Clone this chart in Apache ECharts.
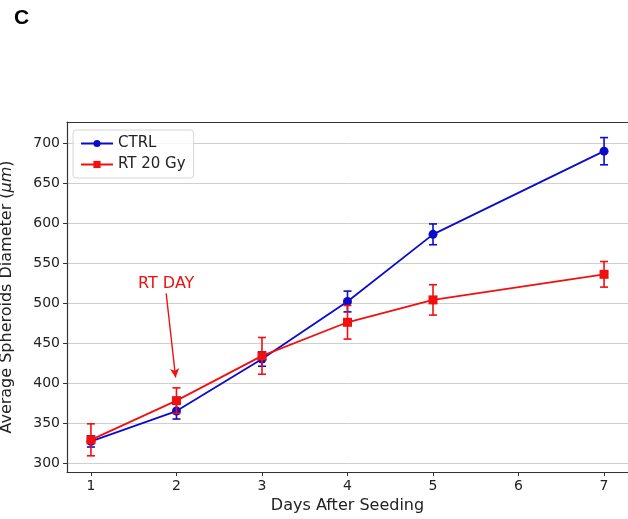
<!DOCTYPE html>
<html>
<head>
<meta charset="utf-8">
<script src="https://cdn.jsdelivr.net/npm/echarts@6/dist/echarts.min.js"></script>
<style>
	html, body { margin: 0; padding: 0; background: #fff; }
	#chart { width: 628px; height: 519px; }
</style>
</head>
<body>
<div id="chart"></div>
<script type="text/javascript">
	// values
	var days = [1, 2, 3, 4, 5, 7];
	var ctrlMean = [327, 365, 430, 502, 586, 690];
	var ctrlErr = [7, 10, 9, 13, 13, 17];
	var rtMean = [329, 378, 434, 476, 504, 536];
	var rtErr = [20, 16, 23, 21, 19, 16];
	var xTicks = [1, 2, 3, 4, 5, 6, 7];
	var yTicks = [300, 350, 400, 450, 500, 550, 600, 650, 700];
	var rtDayFrom = [1.88, 512];
	var rtDayTo = [1.99, 407];

	var font = 'DejaVu Sans';
	var blue = '#0b0bcc';
	var red = '#f01010';

	function pairs(xs, ys) {
		return xs.map(function (x, i) { return [x, ys[i]]; });
	}
	function errRows(xs, ys, es) {
		return xs.map(function (x, i) { return [x, ys[i] - es[i], ys[i] + es[i]]; });
	}
	function errorBars(color) {
		return function (params, api) {
			var lo = api.coord([api.value(0), api.value(1)]);
			var hi = api.coord([api.value(0), api.value(2)]);
			var cap = 4;
			var st = { stroke: color, lineWidth: 1.6 };
			return {
				type: 'group',
				children: [
					{ type: 'line', shape: { x1: lo[0], y1: lo[1], x2: hi[0], y2: hi[1] }, style: st },
					{ type: 'line', shape: { x1: lo[0] - cap, y1: lo[1], x2: lo[0] + cap, y2: lo[1] }, style: st },
					{ type: 'line', shape: { x1: hi[0] - cap, y1: hi[1], x2: hi[0] + cap, y2: hi[1] }, style: st }
				]
			};
		};
	}

	var chart = echarts.init(document.getElementById('chart'));
	var option = {
		animation: false,
		backgroundColor: '#fff',
		graphic: [{
			type: 'text', left: 14, top: 8,
			style: { text: 'C', font: 'bold 21px "Liberation Sans", Arial, sans-serif', fill: '#000' }
		}],
		grid: { left: 67, top: 122, right: 0, bottom: 47, outerBoundsMode: 'none', containLabel: false },
		legend: {
			left: 73, top: 130,
			orient: 'vertical',
			data: ['CTRL', 'RT 20 Gy'],
			itemWidth: 32, itemHeight: 9, itemGap: 6,
			padding: [6, 8, 6, 7],
			borderColor: '#d6d6d6', borderWidth: 1, borderRadius: 3,
			backgroundColor: 'rgba(255,255,255,0.8)',
			textStyle: { fontFamily: font, fontSize: 15, color: '#222' }
		},
		xAxis: [{
			type: 'value', min: 0.72, max: 7.28,
			interval: 1,
			name: 'Days After Seeding', nameLocation: 'middle', nameGap: 26,
			nameTextStyle: { fontFamily: font, fontSize: 16, color: '#222' },
			axisLine: { lineStyle: { color: '#333', width: 1.2 } },
			axisTick: { show: true, length: 4, lineStyle: { color: '#333' }, customValues: xTicks },
			axisLabel: { fontFamily: font, fontSize: 14, color: '#222', margin: 7, customValues: xTicks },
			splitLine: { show: false }
		}, {
			type: 'value', min: 0.72, max: 7.28, position: 'top',
			axisLine: { show: true, onZero: false, lineStyle: { color: '#333', width: 1.2 } },
			axisTick: { show: false }, axisLabel: { show: false }, splitLine: { show: false }
		}],
		yAxis: {
			type: 'value', min: 288.75, max: 726.5,
			interval: 50,
			name: 'Average Spheroids Diameter ({i|μm})', nameLocation: 'middle', nameGap: 52,
			nameTextStyle: {
				fontFamily: font, fontSize: 16, color: '#222',
				rich: { i: { fontFamily: font, fontSize: 16, fontStyle: 'italic', color: '#222' } }
			},
			axisLine: { show: true, lineStyle: { color: '#333', width: 1.2 } },
			axisTick: { show: true, length: 4, lineStyle: { color: '#333' }, customValues: yTicks },
			axisLabel: { fontFamily: font, fontSize: 14, color: '#222', margin: 7, customValues: yTicks },
			splitLine: { show: true, lineStyle: { color: '#cfcfcf', width: 1 } }
		},
		series: [{
			name: 'ctrlErr', type: 'custom', z: 2,
			renderItem: errorBars(blue),
			data: errRows(days, ctrlMean, ctrlErr),
			encode: { x: 0, y: [1, 2] }
		}, {
			name: 'CTRL', type: 'line', z: 3,
			data: pairs(days, ctrlMean),
			symbol: 'circle', symbolSize: 9,
			lineStyle: { color: blue, width: 1.8 },
			itemStyle: { color: blue }
		}, {
			name: 'rtErr', type: 'custom', z: 4,
			renderItem: errorBars(red),
			data: errRows(days, rtMean, rtErr),
			encode: { x: 0, y: [1, 2] }
		}, {
			name: 'RT 20 Gy', type: 'line', z: 5,
			data: pairs(days, rtMean),
			symbol: 'rect', symbolSize: 9,
			lineStyle: { color: red, width: 1.8 },
			itemStyle: { color: red },
			markLine: {
				silent: true,
				symbol: ['none', 'arrow'], symbolSize: [7, 9],
				lineStyle: { color: red, width: 1.4, type: 'solid' },
				label: { show: false },
				data: [[{ coord: rtDayFrom }, { coord: rtDayTo }]]
			},
			markPoint: {
				silent: true,
				symbol: 'circle', symbolSize: 0,
				label: {
					show: true, formatter: 'RT DAY', position: 'top', distance: 2,
					fontFamily: font, fontSize: 16, color: red
				},
				data: [{ coord: rtDayFrom }]
			}
		}]
	};
	chart.setOption(option);
</script>
</body>
</html>
